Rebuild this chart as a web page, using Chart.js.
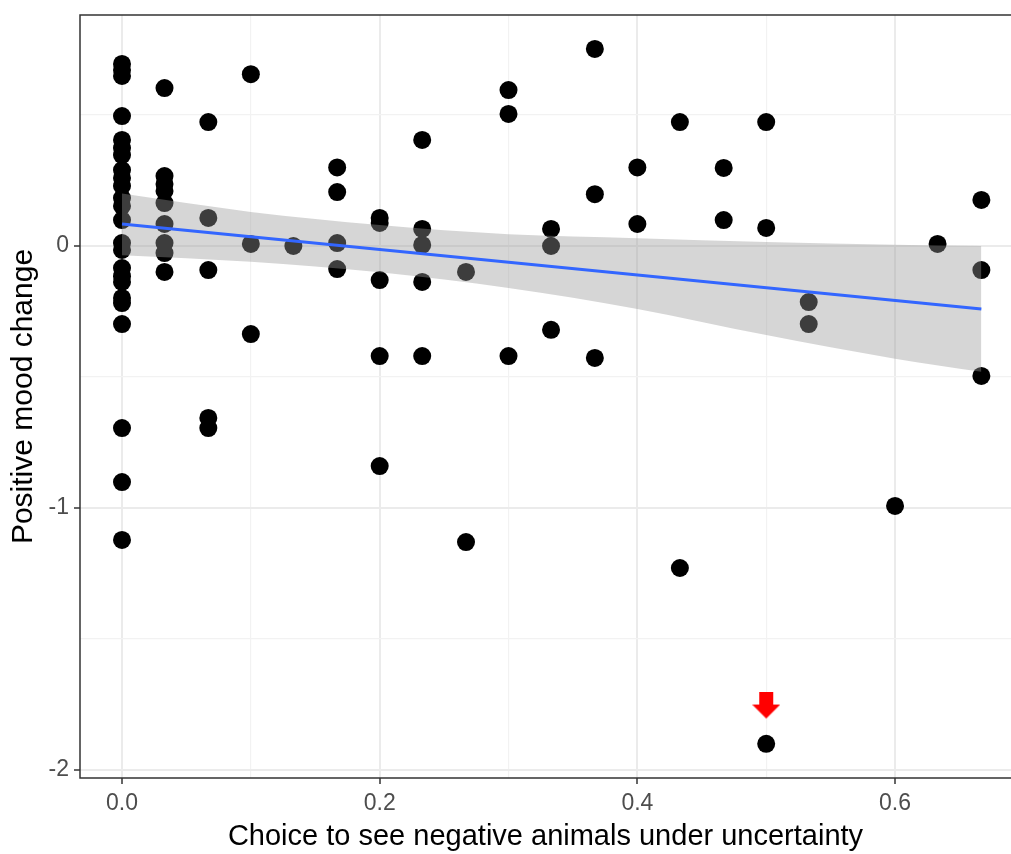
<!DOCTYPE html>
<html>
<head>
<meta charset="utf-8">
<script src="https://cdn.jsdelivr.net/npm/chart.js@4.4.1/dist/chart.umd.min.js"></script>
<style>
  html, body { margin: 0; padding: 0; background: #fff; overflow: hidden; }
  #wrap { position: absolute; left: 0; top: 0; width: 1011px; height: 854px; }
</style>
</head>
<body>
<div id="wrap"><canvas id="moodChart"></canvas></div>
<script>
// observed points, one column of the plot per line
const choiceX = [
  0,0,0,0,0,0,0,0,0,0,0,0,0,0,0,0,0,0,0,0,0,0,0,0,
  0.033,0.033,0.033,0.033,0.033,0.033,0.033,0.033,0.033,
  0.067,0.067,0.067,0.067,0.067,
  0.1,0.1,0.1,
  0.133,
  0.167,0.167,0.167,0.167,
  0.2,0.2,0.2,0.2,0.2,
  0.233,0.233,0.233,0.233,0.233,
  0.267,0.267,
  0.3,0.3,0.3,
  0.333,0.333,0.333,
  0.367,0.367,0.367,
  0.4,0.4,
  0.433,0.433,
  0.467,0.467,
  0.5,0.5,0.5,
  0.533,0.533,
  0.6,
  0.633,
  0.667,0.667,0.667
];
const moodY = [
  0.695,0.672,0.649,0.496,0.405,0.374,0.347,0.290,0.260,0.229,0.183,0.153,0.099,0.011,-0.015,-0.084,-0.115,-0.137,-0.198,-0.218,-0.298,-0.695,-0.901,-1.122,
  0.603,0.267,0.237,0.210,0.164,0.084,0.011,-0.027,-0.099,
  0.473,0.107,-0.092,-0.656,-0.695,
  0.656,0.008,-0.336,
  0.0,
  0.300,0.206,0.011,-0.088,
  0.107,0.088,-0.130,-0.420,-0.840,
  0.405,0.065,0.004,-0.137,-0.420,
  -0.099,-1.130,
  0.595,0.504,-0.420,
  0.065,0.0,-0.320,
  0.752,0.198,-0.427,
  0.300,0.084,
  0.473,-1.229,
  0.298,0.099,
  0.473,0.069,-1.900,
  -0.214,-0.298,
  -0.992,
  0.008,
  0.176,-0.092,-0.496
];

// linear fit and its confidence band
const fitX = [0, 0.667];
const fitY = [0.084, -0.240];
const bandX = [0, 0.1, 0.2, 0.3, 0.4, 0.5, 0.6, 0.667];
const bandUpper = [0.200, 0.130, 0.080, 0.045, 0.030, 0.015, 0.005, 0.000];
const bandLower = [-0.035, -0.060, -0.100, -0.160, -0.240, -0.340, -0.430, -0.480];

// red marker above the outlier
const arrowX = [0.5];
const arrowY = [-1.754];

// axes
const xTicks = [0, 0.2, 0.4, 0.6];
const xTickLabels = ['0.0', '0.2', '0.4', '0.6'];
const xMinor = [0.1, 0.3, 0.5];
const yTicks = [-2, -1, 0];
const yTickLabels = ['-2', '-1', '0'];
const yMinor = [-1.5, -0.5, 0.5];

const pairs = (xs, ys) => xs.map((x, i) => ({ x: x, y: ys[i] }));

// arrow drawn once into a small canvas, used as point style
const arrowImg = document.createElement('canvas');
arrowImg.width = 28;
arrowImg.height = 28;
const a = arrowImg.getContext('2d');
a.fillStyle = '#FF0000';
a.fillRect(7, 0, 14, 14);
a.beginPath();
a.moveTo(0, 13);
a.lineTo(28, 13);
a.lineTo(14, 27);
a.closePath();
a.fill();

const isMajor = (list, v) => list.some(t => Math.abs(t - v) < 1e-9);

// panel frame: top, left and bottom (right edge falls off the picture)
const panelBorder = {
  id: 'panelBorder',
  afterDatasetsDraw(chart) {
    const { ctx, chartArea: c } = chart;
    ctx.save();
    ctx.strokeStyle = '#333333';
    ctx.lineWidth = 1.5;
    ctx.beginPath();
    ctx.moveTo(c.right + 2, c.top);
    ctx.lineTo(c.left, c.top);
    ctx.lineTo(c.left, c.bottom);
    ctx.lineTo(c.right + 2, c.bottom);
    ctx.stroke();
    ctx.restore();
  }
};

const gridOpts = (majors) => ({
  color: (c) => c.tick && isMajor(majors, c.tick.value) ? '#EBEBEB' : '#F2F2F2',
  lineWidth: (c) => c.tick && isMajor(majors, c.tick.value) ? 2 : 1.2,
  tickColor: (c) => c.tick && isMajor(majors, c.tick.value) ? '#333333' : 'rgba(0,0,0,0)',
  tickWidth: 1.5,
  tickLength: 6
});

const ctx = document.getElementById('moodChart').getContext('2d');
new Chart(ctx, {
  type: 'scatter',
  data: {
    datasets: [
      {
        type: 'line',
        data: pairs(fitX, fitY),
        borderColor: '#3366FF',
        borderWidth: 3,
        pointRadius: 0,
        fill: false,
        order: 0
      },
      {
        type: 'line',
        data: pairs(bandX, bandUpper),
        borderWidth: 0,
        pointRadius: 0,
        cubicInterpolationMode: 'monotone',
        backgroundColor: 'rgba(153,153,153,0.4)',
        fill: '+1',
        order: 1
      },
      {
        type: 'line',
        data: pairs(bandX, bandLower),
        borderWidth: 0,
        pointRadius: 0,
        cubicInterpolationMode: 'monotone',
        fill: false,
        order: 2
      },
      {
        data: pairs(choiceX, moodY),
        backgroundColor: '#000000',
        borderWidth: 0,
        pointRadius: 9,
        order: 3
      },
      {
        data: pairs(arrowX, arrowY),
        pointStyle: arrowImg,
        pointRadius: 14,
        order: 0
      }
    ]
  },
  options: {
    responsive: true,
    maintainAspectRatio: false,
    devicePixelRatio: 1,
    animation: false,
    events: [],
    layout: { autoPadding: false, padding: { top: 15, right: 0, left: 0, bottom: 0 } },
    plugins: {
      legend: { display: false },
      tooltip: { enabled: false }
    },
    scales: {
      x: {
        type: 'linear',
        min: -0.0326,
        max: 0.690,
        afterBuildTicks: (s) => { s.ticks = xTicks.concat(xMinor).sort((p, q) => p - q).map(v => ({ value: v })); },
        afterFit: (s) => { s.height = 76; s.paddingLeft = 0; s.paddingRight = 0; },
        grid: gridOpts(xTicks),
        border: { display: false },
        ticks: {
          autoSkip: false,
          maxRotation: 0,
          padding: 6,
          color: '#4D4D4D',
          font: { family: 'Liberation Sans', size: 23 },
          callback: (v) => { const i = xTicks.findIndex(t => Math.abs(t - v) < 1e-9); return i >= 0 ? xTickLabels[i] : ''; }
        },
        title: {
          display: true,
          text: 'Choice to see negative animals under uncertainty',
          color: '#000000',
          font: { family: 'Liberation Sans', size: 29 },
          padding: { top: 0, bottom: 0 }
        }
      },
      y: {
        type: 'linear',
        min: -2.0305,
        max: 0.8817,
        afterBuildTicks: (s) => { s.ticks = yTicks.concat(yMinor).sort((p, q) => p - q).map(v => ({ value: v })); },
        afterFit: (s) => { s.width = 80; s.paddingTop = 0; s.paddingBottom = 0; },
        grid: gridOpts(yTicks),
        border: { display: false },
        ticks: {
          autoSkip: false,
          padding: 5,
          color: '#4D4D4D',
          font: { family: 'Liberation Sans', size: 23 },
          callback: (v) => { const i = yTicks.findIndex(t => Math.abs(t - v) < 1e-9); return i >= 0 ? yTickLabels[i] : ''; }
        },
        title: {
          display: true,
          text: 'Positive mood change',
          color: '#000000',
          font: { family: 'Liberation Sans', size: 30 },
          padding: { top: 6, bottom: 0 }
        }
      }
    }
  },
  plugins: [panelBorder]
});
</script>
</body>
</html>
